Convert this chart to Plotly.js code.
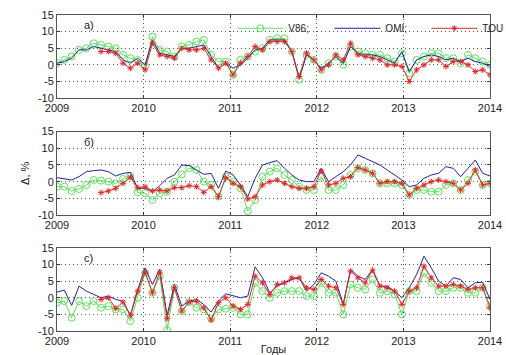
<!DOCTYPE html>
<html>
<head>
<meta charset="utf-8">
<script src="https://cdn.plot.ly/plotly-3.0.1.min.js"></script>
<style>html,body{margin:0;padding:0;background:#fff;}#chart{width:506px;height:355px;}</style>
</head>
<body>
<div id="chart"></div>
<script>
// ---- data (monthly samples, 2009 .. 2014) ----
const startYear = 2009;
const endYear = 2014;
const nPoints = 60;

const seriesNames = ['V86;', 'OMI;', 'TOU'];
const panelLabels = ['a)', 'б)', 'c)'];
const xTickVals = [2009, 2010, 2011, 2012, 2013, 2014];
const xTickText = ['2009', '2010', '2011', '2012', '2013', '2014'];
const yTickVals = [-10, -5, 0, 5, 10, 15];
const yTickText = ['-10', '-5', '0', '5', '10', '15'];

// panel a)
const v86_a = [0.5,1.5,2.5,4.5,5,6.5,6,5.5,5,3,2,1.5,-0.5,8.5,4.5,4,2.5,5.5,6,7,7.5,3,1,1,-3,1.5,2.5,4,5,7.5,8,8,4,-4.5,3,1.5,-1.5,0.5,2.5,0,5.5,4,3.5,3,3,2,1,3.5,-2.5,1.5,2.5,3.5,3.5,2,2,0.5,3,2,1,0];
const omi_a = [0.5,1,2,4.5,4.5,5.5,5,4.5,4,1.5,0.5,2,0,7.5,3.5,3,2.5,5,5,5.5,6,2.5,-1,0.5,-1,0,2,4.5,5,7.5,7.5,7.5,4,-4,3,1.5,-1,0.5,2.5,0.5,5.5,3.5,3,3,2.5,1.5,0.5,4,-2,1.5,2.5,3,2.5,1.5,2,1,2,1,0.5,-0.5];
const tou_a = [null,null,null,null,null,null,4,4,3.5,0.5,-1,0.5,-1.5,6.5,3,2.5,2,5,4.5,4.5,5,1.5,-1,0.5,-3,0.5,2.5,5.5,4.5,7,7,7,4,-3.5,3.5,1.5,-1.5,0,3,1.5,6.5,3,2.5,2,1.5,0,0,-0.5,-5,-1.5,0,1.5,1.5,-0.5,1,1,0,-2,-1.5,-3];

// panel б)
const v86_b = [-1.5,-1.5,-2.8,-2.2,-1,0.5,0.3,0,-0.5,0.8,1.7,-3.2,-3.5,-5.5,-3.5,-3,0,2.2,4,3.5,0,-1,-4.5,1.5,0,-2,-8.8,-5.5,1.5,3,4,2,0.5,-1.5,-2.5,-2.5,1.5,-2.5,-2.5,-1,2,4,3.5,2.5,-0.5,-0.5,-0.5,-1,-4,-2.5,-2.5,-3,-3,-1,-0.5,-2.5,0.5,3,-1,-0.5];
const omi_b = [1.2,0.8,0.5,1.5,3,3.3,3.5,3,1.7,2.5,2.8,-2,-2,-3,-1.2,1,2,5,4.8,3.5,2.2,2.5,-2,3.2,2,-1,-4.5,1,5,5.7,6.3,4,2,0.5,0,0,4,0,1.5,3,5,8,7,6,5,3.5,2,0.5,-1.5,-1,1,2,2.5,4.5,4,1.5,4,6.5,2.5,1.7];
const tou_b = [null,null,null,null,null,null,-3.3,-2.8,-2,-0.5,1.3,-1.8,-1.5,-2.8,-2.5,-2.8,-1.8,-1.8,-1.2,-1.5,-3.2,-1.5,-4.5,1.2,-0.5,-1.5,-5.2,-4.5,-1,0,0.5,-0.5,-1.5,-2,-2,-1.5,3.2,-1,-0.5,1,1.5,4.2,3.5,2.5,-0.5,0,0,-0.5,-4,-2,-1,0,0.5,0,-0.5,-2.5,-0.5,3.5,-1,-0.5];

// panel c)
const v86_c = [-1.5,-1,-6,-1,-2.5,-1,-3,-2.5,-3.5,-3.5,-7,0,7.5,1.5,6.5,-9.7,3,-4,-1.3,-3,-3.5,-6.3,-3.5,-3.3,-3,-5,-5,4.5,2,0,1.5,2,2,2,0.5,0.5,4.5,1.5,1.5,-5,4,3,2.5,5.5,1.5,2,1,-5,2,2,7.5,4.5,2,2,3,3,1.5,1.5,3,-2.5];
const omi_c = [1.7,2.3,-2.3,3.5,2,1,0,0.5,-0.5,-1,-5.3,2.5,9,4,8.5,-5.3,4,-2.5,-1,-0.5,-2,-4.3,-1,1.2,0.7,0,0.5,9.3,6,1.5,3.5,4.5,5.5,6,2,4,7.5,6.5,5,-2,8.5,6.5,5.5,8.5,3.5,3.5,2,0,3,7,12.5,9,5,3.5,6,5.5,3,4.5,4.7,-0.5];
const tou_c = [null,null,null,null,null,null,-0.5,0,-3.2,-1.3,-5.3,2,7.7,1.5,7.7,-6.3,3,-4,-1.3,-1,-3,-6.7,-1.5,0,-2.5,-3.5,-2,6.5,4.5,1,4,4.5,6,6,3,2.5,5.5,3.5,3,-2,8,6,4.5,8.3,3.5,3,2,-2,2,3,9.5,6,3.5,3.5,4,3.5,2.5,3,3,-3];

// ---- build ----
const xs = [];
for (let i = 0; i < nPoints; i++) xs.push(startYear + i * (endYear - startYear) / (nPoints - 1));

const panels = [
  {v86: v86_a, omi: omi_a, tou: tou_a, domain: [0.737, 1]},
  {v86: v86_b, omi: omi_b, tou: tou_b, domain: [0.367, 0.631]},
  {v86: v86_c, omi: omi_c, tou: tou_c, domain: [0, 0.263]}
];

const green = '#5ee05e';
const blue = '#22229a';
const red = '#e02828';

const traces = [];
panels.forEach((p, k) => {
  const xa = k === 0 ? 'x' : 'x' + (k + 1);
  const ya = k === 0 ? 'y' : 'y' + (k + 1);
  traces.push({x: xs, y: p.v86, xaxis: xa, yaxis: ya, type: 'scatter', mode: 'lines+markers',
    name: seriesNames[0], showlegend: k === 0, legendrank: 1,
    line: {color: green, width: 1}, marker: {symbol: 'circle-open', size: 7, color: green, line: {width: 1}}});
  traces.push({x: xs, y: p.omi, xaxis: xa, yaxis: ya, type: 'scatter', mode: 'lines',
    name: seriesNames[1], showlegend: k === 0, legendrank: 2,
    line: {color: blue, width: 1}});
  traces.push({x: xs, y: p.tou, xaxis: xa, yaxis: ya, type: 'scatter', mode: 'lines+markers',
    name: seriesNames[2], showlegend: k === 0, legendrank: 3,
    line: {color: red, width: 1}, marker: {symbol: 'asterisk-open', size: 5, color: red, line: {width: 1, color: red}}});
});

const font = {family: 'Liberation Sans, Arial, sans-serif', size: 11, color: '#222'};

function xAxis(k) {
  const ax = {
    domain: [0, 1], anchor: k === 0 ? 'y' : 'y' + (k + 1), range: [startYear, endYear],
    tickmode: 'array', tickvals: xTickVals, ticktext: xTickText,
    ticks: 'inside', ticklen: 3, tickcolor: '#333',
    showline: true, linecolor: '#555', linewidth: 1, mirror: 'ticks',
    showgrid: true, gridcolor: '#555', griddash: '1px,3px', gridwidth: 1,
    zeroline: false, tickfont: font, fixedrange: true
  };
  if (k === 2) ax.title = {text: 'Годы', font: font, standoff: 2};
  return ax;
}
function yAxis(k) {
  const ax = {
    domain: panels[k].domain, anchor: k === 0 ? 'x' : 'x' + (k + 1), range: [-10, 15],
    tickmode: 'array', tickvals: yTickVals, ticktext: yTickText,
    ticks: 'inside', ticklen: 3, tickcolor: '#333',
    showline: true, linecolor: '#555', linewidth: 1, mirror: 'ticks',
    showgrid: true, gridcolor: '#555', griddash: '1px,3px', gridwidth: 1,
    zeroline: false, tickfont: font, fixedrange: true
  };
  if (k === 1) ax.title = {text: 'Δ, %', font: font, standoff: 6};
  return ax;
}

const layout = {
  width: 506, height: 355,
  margin: {l: 57, r: 16, t: 15, b: 24, autoexpand: false},
  paper_bgcolor: '#fff', plot_bgcolor: '#fff',
  font: font,
  showlegend: true,
  legend: {orientation: 'h', x: 0.405, y: 0.958, xanchor: 'left', yanchor: 'middle',
    bgcolor: 'rgba(0,0,0,0)', borderwidth: 0, font: {family: font.family, size: 10, color: '#222'},
    itemwidth: 46, entrywidth: 36, tracegroupgap: 0},
  xaxis: xAxis(0), yaxis: yAxis(0),
  xaxis2: xAxis(1), yaxis2: yAxis(1),
  xaxis3: xAxis(2), yaxis3: yAxis(2),
  annotations: panelLabels.map((t, k) => ({
    text: t, xref: (k === 0 ? 'x' : 'x' + (k + 1)) + ' domain', yref: (k === 0 ? 'y' : 'y' + (k + 1)) + ' domain',
    x: 0.058, y: 0.88, xanchor: 'left', yanchor: 'middle', showarrow: false, font: font
  }))
};

Plotly.newPlot('chart', traces, layout, {displayModeBar: false, staticPlot: true});
</script>
</body>
</html>
